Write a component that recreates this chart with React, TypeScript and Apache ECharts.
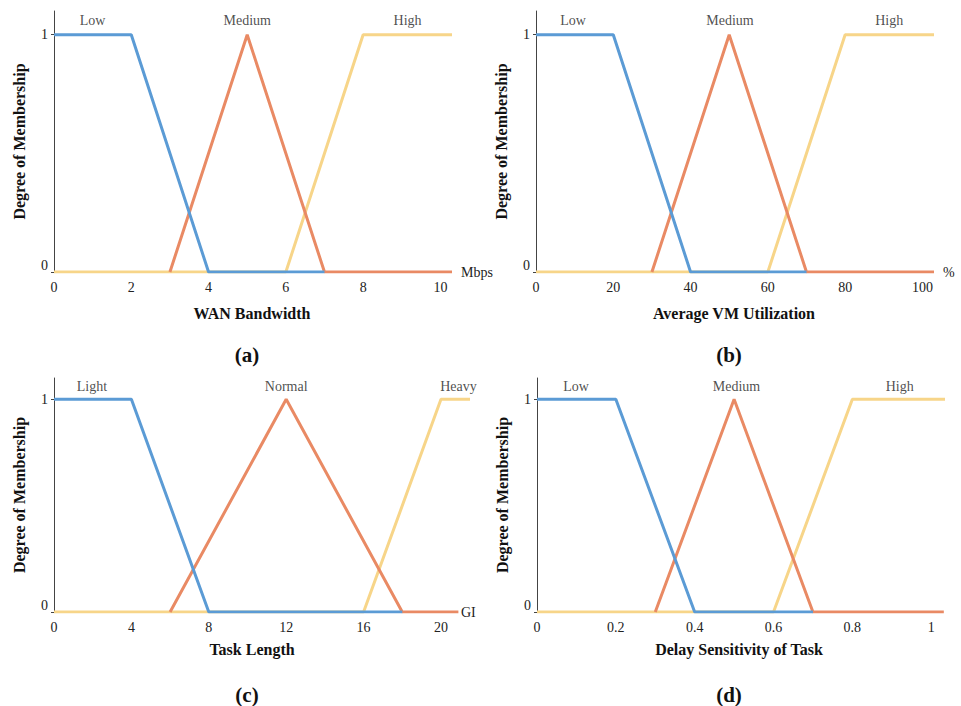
import React, { useEffect, useRef } from "react";
import * as echarts from "echarts";

// Panel (a) WAN Bandwidth (Mbps)
const aLow = [[0, 1], [2, 1], [4, 0], [7, 0]];
const aMedium = [[3, 0], [5, 1], [7, 0], [10.3, 0]];
const aHigh = [[0, 0], [6, 0], [8, 1], [10.3, 1]];
const aTerms = [[1, 1.06, "Low"], [5, 1.06, "Medium"], [9.15, 1.06, "High"]];
const aTickStep = 2;

// Panel (b) Average VM Utilization (%)
const bLow = [[0, 1], [20, 1], [40, 0], [70, 0]];
const bMedium = [[30, 0], [50, 1], [70, 0], [103, 0]];
const bHigh = [[0, 0], [60, 0], [80, 1], [103, 1]];
const bTerms = [[9.6, 1.06, "Low"], [50.2, 1.06, "Medium"], [91.4, 1.06, "High"]];
const bTickStep = 20;

// Panel (c) Task Length (GI)
const cLight = [[0, 1], [4, 1], [8, 0], [18, 0]];
const cNormal = [[6, 0], [12, 1], [18, 0], [20.9, 0]];
const cHeavy = [[0, 0], [16, 0], [20, 1], [21.5, 1]];
const cTerms = [[1.96, 1.06, "Light"], [12, 1.06, "Normal"], [20.9, 1.06, "Heavy"]];
const cTickStep = 4;

// Panel (d) Delay Sensitivity of Task
const dLow = [[0, 1], [0.2, 1], [0.4, 0], [0.7, 0]];
const dMedium = [[0.3, 0], [0.5, 1], [0.7, 0], [1.032, 0]];
const dHigh = [[0, 0], [0.6, 0], [0.8, 1], [1.035, 1]];
const dTerms = [[0.099, 1.06, "Low"], [0.506, 1.06, "Medium"], [0.92, 1.06, "High"]];
const dTickStep = 0.2;

const BLUE = "#5B9BD5";
const ORANGE = "#E98A64";
const YELLOW = "#F7D589";
const SERIF = "Liberation Serif";

export default function App() {
  const ref = useRef<HTMLDivElement>(null);

  useEffect(() => {
    if (!ref.current) return;
    const chart = echarts.init(ref.current, null, { renderer: "svg" });

    const grids = [
      { left: 54, top: 11, width: 398, height: 261 },
      { left: 536, top: 11, width: 398, height: 261 },
      { left: 54, top: 378, width: 416, height: 234 },
      { left: 537, top: 378, width: 408, height: 234 },
    ];
    const xMax = [10.3, 103, 21.5, 1.035];
    const xStep = [aTickStep, bTickStep, cTickStep, dTickStep];
    const units = ["Mbps", "%", "GI", ""];
    const unitGap = [9, 9, -9, 0];

    const xAxis = grids.map((_, i) => ({
      type: "value",
      gridIndex: i,
      min: 0,
      max: xMax[i],
      interval: xStep[i],
      splitLine: { show: false },
      axisLine: { show: false },
      axisTick: { show: false },
      axisLabel: {
        showMaxLabel: false,
        margin: 8,
        color: "#222",
        fontSize: 14,
        fontFamily: SERIF,
      },
      name: units[i],
      nameLocation: "end",
      nameGap: unitGap[i],
      nameTextStyle: {
        color: "#222",
        fontSize: 14,
        fontFamily: SERIF,
        align: "left",
        padding: [26, 0, 0, 0],
      },
    }));

    const yAxis = grids.map((_, i) => ({
      type: "value",
      gridIndex: i,
      min: 0,
      max: 1.1,
      interval: 1,
      splitLine: { show: false },
      axisLine: { show: true, lineStyle: { color: "#444", width: 1 } },
      axisTick: { show: true, length: 3, lineStyle: { color: "#444" } },
      axisLabel: {
        showMaxLabel: false,
        margin: 6,
        color: "#222",
        fontSize: 14,
        fontFamily: SERIF,
        formatter: (v: number) => (v === 0 ? "{z|0}" : v === 1 ? "{o|1}" : ""),
        rich: {
          z: { fontSize: 14, fontFamily: SERIF, color: "#222", padding: [0, 0, 14, 0] },
          o: { fontSize: 14, fontFamily: SERIF, color: "#222" },
        },
      },
      name: "Degree of Membership",
      nameLocation: "middle",
      nameRotate: 90,
      nameGap: 27,
      nameTextStyle: {
        color: "#111",
        fontSize: 16,
        fontWeight: "bold",
        fontFamily: SERIF,
      },
    }));

    const panels = [
      [aHigh, aMedium, aLow, aTerms],
      [bHigh, bMedium, bLow, bTerms],
      [cHeavy, cNormal, cLight, cTerms],
      [dHigh, dMedium, dLow, dTerms],
    ];
    const colors = [YELLOW, ORANGE, BLUE];
    const series: any[] = [];
    panels.forEach((p, i) => {
      for (let k = 0; k < 3; k++) {
        series.push({
          type: "line",
          xAxisIndex: i,
          yAxisIndex: i,
          data: p[k],
          symbol: "none",
          lineStyle: { color: colors[k], width: 3 },
          itemStyle: { color: colors[k] },
          z: 2 + k,
        });
      }
      series.push({
        type: "scatter",
        xAxisIndex: i,
        yAxisIndex: i,
        data: p[3],
        symbolSize: 1,
        itemStyle: { color: "rgba(0,0,0,0)" },
        label: {
          show: true,
          position: "inside",
          formatter: (d: any) => d.value[2],
          color: "#222",
          fontSize: 14,
          fontFamily: SERIF,
        },
        z: 10,
      });
    });

    const titleText = (text: string, x: number, y: number) => ({
      type: "text",
      x,
      y,
      style: {
        text,
        align: "center",
        verticalAlign: "middle",
        fill: "#111",
        fontSize: 16,
        fontWeight: "bold",
        fontFamily: SERIF,
      },
    });
    const subText = (text: string, x: number, y: number) => ({
      type: "text",
      x,
      y,
      style: {
        text,
        align: "center",
        verticalAlign: "middle",
        fill: "#111",
        fontSize: 21,
        fontWeight: "bold",
        fontFamily: SERIF,
      },
    });

    chart.setOption({
      animation: false,
      backgroundColor: "#fff",
      grid: grids.map((g) => ({ ...g, containLabel: false })),
      xAxis,
      yAxis,
      series,
      graphic: [
        titleText("WAN Bandwidth", 252, 313),
        titleText("Average VM Utilization", 734, 313),
        titleText("Task Length", 252, 649),
        titleText("Delay Sensitivity of Task", 739, 649),
        subText("(a)", 247, 355),
        subText("(b)", 729, 355),
        subText("(c)", 247, 695),
        subText("(d)", 729, 695),
      ],
    });

    return () => chart.dispose();
  }, []);

  return (
    <div
      ref={ref}
      style={{ position: "fixed", left: 0, top: 0, width: 961, height: 706 }}
    />
  );
}
